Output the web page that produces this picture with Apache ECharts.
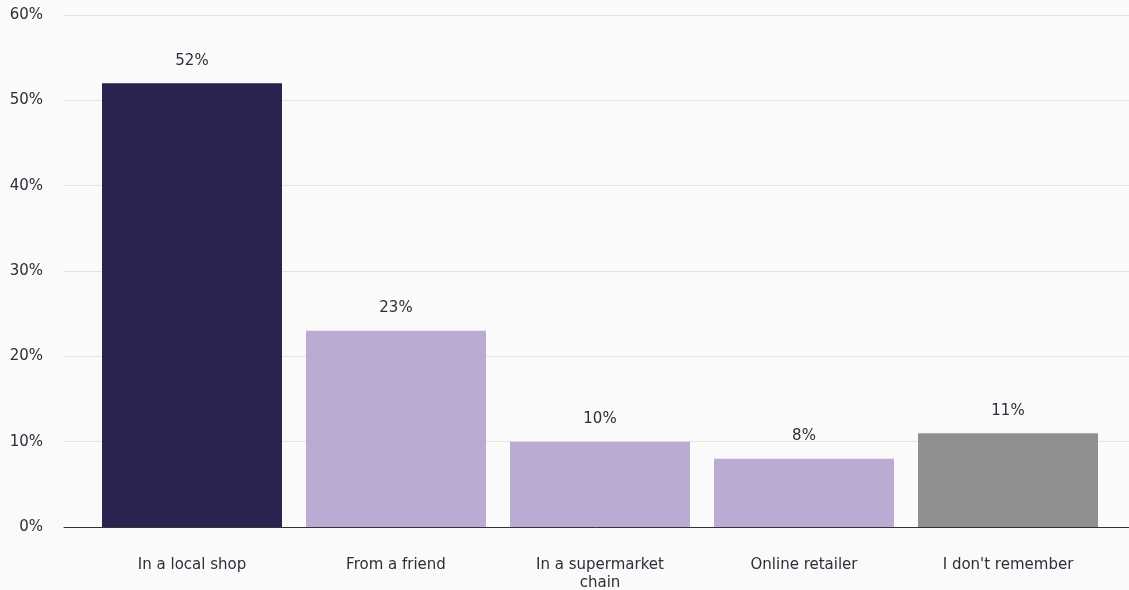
<!DOCTYPE html>
<html>
<head>
<meta charset="utf-8">
<script src="https://cdn.jsdelivr.net/npm/echarts@6/dist/echarts.min.js"></script>
<style>
  html, body { margin: 0; padding: 0; background: #fafafa; }
  #chart { width: 1129px; height: 590px; }
</style>
</head>
<body>
<div id="chart"></div>
<script>
// Where respondents got it
const categories = ['In a local shop', 'From a friend', 'In a supermarket\nchain', 'Online retailer', "I don't remember"];
const shares = [52, 23, 10, 8, 11];
const barColors = ['#2a2350', '#bbaad4', '#bbaad4', '#bbaad4', '#8f8f8f'];
const yTicks = [0, 10, 20, 30, 40, 50, 60];

const font = '"DejaVu Sans", "Open Sans", sans-serif';
const textColor = '#2e2e3a';
const chart = echarts.init(document.getElementById('chart'));

chart.setOption({
  backgroundColor: '#fafafa',
  animation: false,
  grid: [
    // frame: y ticks, gridlines and baseline across the full width
    { left: 64, right: 0, top: 15, bottom: 63, outerBoundsMode: 'none' },
    // bars
    { left: 90, right: 19, top: 15, bottom: 63, outerBoundsMode: 'none' }
  ],
  xAxis: [
    {
      gridIndex: 0, type: 'value', min: 0, max: 1,
      axisLine: { show: true, lineStyle: { color: '#333333', width: 1 } },
      axisTick: { show: false }, axisLabel: { show: false }, splitLine: { show: false }
    },
    {
      gridIndex: 1, type: 'category', data: categories,
      axisLine: { show: false }, axisTick: { show: false },
      axisLabel: {
        margin: 29, color: textColor, fontSize: 15, fontFamily: font,
        lineHeight: 18, interval: 0
      }
    }
  ],
  yAxis: [
    {
      gridIndex: 0, type: 'value', min: yTicks[0], max: yTicks[yTicks.length - 1], interval: 10,
      axisLine: { show: false }, axisTick: { show: false },
      axisLabel: { margin: 21, color: textColor, fontSize: 15, fontFamily: font, formatter: '{value}%' },
      splitLine: { lineStyle: { color: '#e3e3e3', width: 1 } }
    },
    {
      gridIndex: 1, type: 'value', min: yTicks[0], max: yTicks[yTicks.length - 1], interval: 10,
      show: false, splitLine: { show: false }
    }
  ],
  series: [{
    type: 'bar',
    xAxisIndex: 1, yAxisIndex: 1,
    barWidth: 180,
    data: shares.map((v, i) => ({ value: v, itemStyle: { color: barColors[i] } })),
    label: {
      show: true, position: 'top', distance: 15,
      formatter: '{c}%', color: textColor, fontSize: 15, fontFamily: font
    }
  }]
});
</script>
</body>
</html>
